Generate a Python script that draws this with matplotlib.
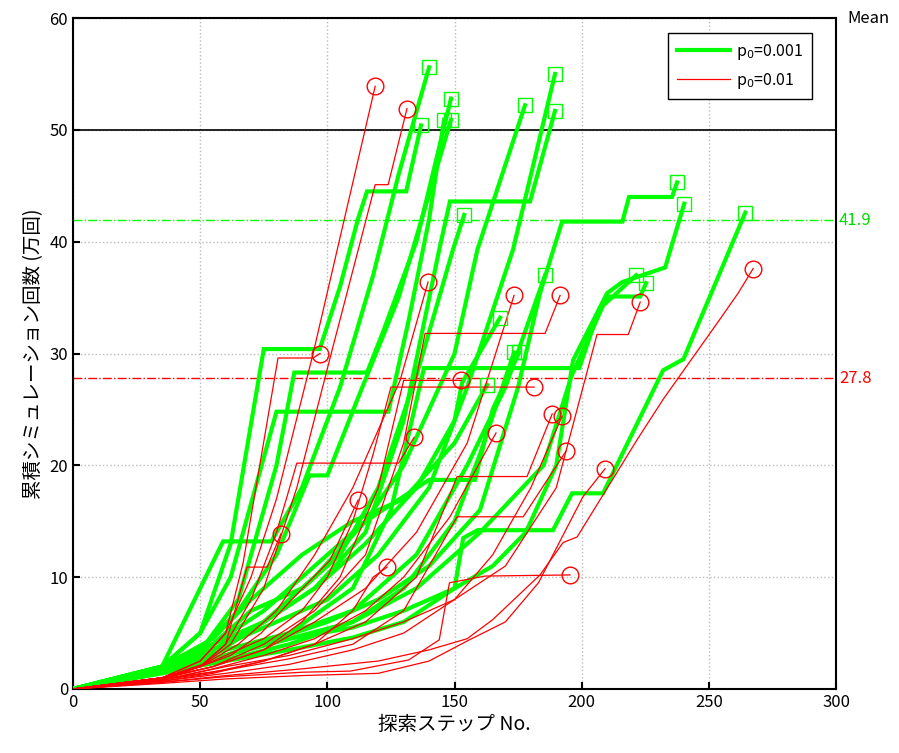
import matplotlib
matplotlib.use("Agg")
import matplotlib.pyplot as plt

plt.rcParams['font.family'] = ['Noto Sans CJK JP', 'DejaVu Sans']

# cumulative simulation counts (x 10^4) per search step, p0 = 0.001
green_x = [
    [0, 35, 59, 78, 90, 105, 118, 128, 140],
    [0, 35, 50, 62, 75, 97, 105, 112, 115.6, 131, 136.8],
    [0, 35, 52, 65, 80, 87, 115.6, 122, 135, 148.6],
    [0, 35, 50, 62, 80, 124, 132, 140, 145.9],
    [0, 35, 50, 65, 80, 93, 100, 112, 128, 148.6],
    [0, 35, 55, 75, 95, 115, 130, 150, 159, 177.7],
    [0, 35, 60, 80, 100, 120, 140, 155, 173, 189.5],
    [0, 35, 55, 75, 95, 115, 130, 144, 148.2, 179.7, 189.5],
    [0, 35, 55, 70, 90, 105, 120, 135, 149.4, 153.8],
    [0, 35, 60, 80, 100, 120, 140, 160, 175, 183.6, 192.3, 216, 218.6, 235.5, 237.5],
    [0, 35, 60, 85, 110, 130, 150, 165, 178, 190, 196.6, 210, 216, 232.8, 240.3],
    [0, 35, 60, 85, 110, 130, 150, 153.4, 159, 188.7, 196.2, 208.4, 232, 240, 264.3],
    [0, 35, 60, 85, 110, 125, 138, 199, 207, 221.4],
    [0, 35, 60, 85, 110, 135, 160, 185, 196, 210, 223, 225.3],
    [0, 35, 60, 85, 110, 135, 155, 170, 185.6],
    [0, 35, 55, 75, 95, 115, 135, 150, 153, 167.9],
    [0, 35, 60, 85, 110, 130, 150, 160, 173.4],
    [0, 35, 55, 75, 95, 115, 140, 158, 165, 175.4],
    [0, 35, 55, 70, 90, 110, 130, 150, 162.8],
]
green_y = [
    [0, 2.0, 13.2, 13.2, 18, 27, 37, 46, 55.6],
    [0, 2.0, 5, 13, 30.4, 30.4, 36, 42, 44.5, 44.5, 50.4],
    [0, 1.8, 4, 8, 20, 28.3, 28.3, 32, 40, 52.8],
    [0, 2.0, 5, 10, 24.8, 24.8, 33, 42, 50.9],
    [0, 1.6, 3.5, 7, 12, 19.1, 19.1, 26, 35, 50.9],
    [0, 1.5, 3, 6, 10, 15, 20, 30, 39.3, 52.2],
    [0, 1.8, 4, 6, 8, 12, 18, 27, 39.3, 55.0],
    [0, 1.7, 3.5, 6, 9, 14, 24, 39.3, 43.6, 43.6, 51.7],
    [0, 2.0, 4, 7, 9, 12, 18, 28, 39.3, 42.4],
    [0, 1.6, 3, 4.5, 6, 8, 11, 16, 27, 35.4, 41.8, 41.8, 44.0, 44.0, 45.3],
    [0, 1.5, 3, 4.5, 5.5, 7, 9, 11, 14, 20, 29.4, 35.4, 36.4, 37.7, 43.4],
    [0, 1.5, 2.5, 3.5, 4.6, 6, 9, 13.5, 14.2, 14.2, 17.5, 17.5, 28.5, 29.5, 42.6],
    [0, 1.8, 3, 5, 9, 16, 28.7, 28.7, 34, 37.0],
    [0, 1.4, 2.6, 4, 6, 9, 14, 20, 28, 35.1, 35.1, 36.3],
    [0, 1.7, 3.5, 5, 7, 12, 20, 27, 37.0],
    [0, 2.0, 4, 6, 9, 13, 18, 24, 27.4, 33.2],
    [0, 1.6, 3, 4.5, 6, 9, 15, 21, 30.1],
    [0, 1.8, 4, 7, 11, 15, 18.7, 18.7, 25, 30.1],
    [0, 2.0, 4.5, 8, 12, 15, 17, 22, 27.2],
]

# cumulative simulation counts (x 10^4) per search step, p0 = 0.01
red_x = [
    [0, 35, 50, 60, 70, 80, 94.4, 118.8],
    [0, 35, 50, 62, 75, 88, 102.2, 118.8, 123.9, 131.3],
    [0, 35, 50, 65, 80, 95, 110, 128.6, 139.6],
    [0, 35, 55, 75, 95, 115, 135, 155, 173.4],
    [0, 35, 55, 75, 95, 115, 130, 138.4, 185.6, 191.5],
    [0, 35, 60, 85, 110, 130, 150, 170, 190, 206, 218.3, 223],
    [0, 35, 60, 90, 120, 140, 155, 165, 183.6, 192.7, 198.2, 221.8, 232, 253.2, 261.5, 267.4],
    [0, 35, 50, 60, 66.9, 80.6, 94.4, 97.1],
    [0, 35, 55, 75, 90, 105, 120, 130, 152.6],
    [0, 35, 55, 75, 90, 100, 110, 118, 125, 181.3],
    [0, 35, 55, 75, 95, 115, 130, 148.2, 166.3],
    [0, 35, 50, 60, 70, 80, 88, 128, 134.1],
    [0, 35, 55, 75, 95, 115, 135, 151, 178.5, 188.4],
    [0, 35, 60, 85, 110, 130, 150, 165, 180, 192.3],
    [0, 35, 60, 85, 110, 130, 151, 177, 193.9],
    [0, 35, 50, 62, 74, 86, 101, 112.1],
    [0, 35, 50, 60, 68.4, 76.3, 81.8],
    [0, 35, 55, 75, 95, 110, 118, 123.5],
    [0, 35, 60, 90, 120, 140, 155, 170, 183, 200.5, 209.2],
    [0, 35, 60, 90, 109, 132, 144, 148, 162, 195.4],
]
red_y = [
    [0, 1.0, 2.5, 5, 10, 17, 30.0, 53.9],
    [0, 1.0, 2, 4, 9, 18, 30.6, 45.1, 45.1, 51.9],
    [0, 0.8, 2, 4, 7, 12, 18, 27.6, 36.4],
    [0, 0.9, 2, 3.5, 6, 9, 14, 22, 35.2],
    [0, 1.0, 2, 4, 7, 12, 22, 31.8, 31.8, 35.2],
    [0, 0.8, 2, 3, 4.5, 6, 8, 11, 18, 31.7, 31.7, 34.6],
    [0, 0.6, 1.2, 1.8, 2.5, 3.5, 4.5, 6.2, 10.2, 13.1, 13.6, 22.3, 25.9, 32.7, 35.4, 37.6],
    [0, 1.0, 2.5, 5, 11.3, 29.6, 29.6, 30.0],
    [0, 1.0, 2, 3.5, 6, 10, 18, 27.6, 27.6],
    [0, 1.0, 2.5, 4.5, 7, 10, 15, 21, 27.0, 27.0],
    [0, 0.8, 1.8, 3, 4.5, 7, 10, 15.4, 22.9],
    [0, 1.0, 2, 4, 8, 14, 20.2, 20.2, 22.5],
    [0, 0.8, 1.5, 2.5, 4, 6, 10, 19.0, 19.0, 24.6],
    [0, 0.7, 1.4, 2.2, 3.5, 5, 8, 12, 18, 24.4],
    [0, 0.9, 1.7, 2.7, 4, 7, 15.4, 15.4, 21.3],
    [0, 1.0, 2, 3, 5, 8, 11.5, 16.9],
    [0, 1.0, 2, 4, 10.9, 10.9, 13.9],
    [0, 0.7, 1.4, 2.5, 4, 7, 10, 10.9],
    [0, 0.5, 0.9, 1.2, 1.4, 2.5, 4.3, 6, 9.5, 17.2, 19.7],
    [0, 0.6, 1.1, 1.5, 1.6, 2.6, 4.4, 9.5, 10.1, 10.2],
]

mean_green = 41.9
mean_red = 27.8
ref_level = 50

fig, ax = plt.subplots(figsize=(8.99, 7.53), dpi=100)
fig.subplots_adjust(left=0.0812, right=0.930, bottom=0.085, top=0.976)

for xs, ys in zip(green_x, green_y):
    ax.plot(xs, ys, color='#00ff00', lw=3.0, solid_joinstyle='miter', zorder=3)
    ax.plot(xs[-1], ys[-1], marker='s', ms=10, mfc='none', mec='#00ff00', mew=1.0, zorder=5)

for xs, ys in zip(red_x, red_y):
    ax.plot(xs, ys, color='#ff0000', lw=0.9, zorder=4)
    ax.plot(xs[-1], ys[-1], marker='o', ms=12, mfc='none', mec='#ff0000', mew=1.0, zorder=5)

ax.axhline(ref_level, color='black', lw=1.2, zorder=2)
ax.axhline(mean_green, color='#00ff00', lw=1.0, ls='-.', zorder=2)
ax.axhline(mean_red, color='#ff0000', lw=1.0, ls='-.', zorder=2)

ax.text(1.004, mean_green, f'{mean_green:.1f}', color='#00dd00', fontsize=12,
        va='center', ha='left', transform=ax.get_yaxis_transform())
ax.text(1.004, mean_red, f'{mean_red:.1f}', color='#ff0000', fontsize=12,
        va='center', ha='left', transform=ax.get_yaxis_transform())
ax.text(1.015, 1.0, 'Mean', fontsize=12, va='center', ha='left', transform=ax.transAxes)

# legend proxies
ax.plot([], [], color='#00ff00', lw=3.0, label='p$_0$=0.001')
ax.plot([], [], color='#ff0000', lw=0.9, label='p$_0$=0.01')
leg = ax.legend(loc='upper right', bbox_to_anchor=(0.9685, 0.9776), fontsize=11.5,
                fancybox=False, edgecolor='black', framealpha=1, handlelength=3.3,
                borderpad=0.55, labelspacing=0.55, borderaxespad=0, handletextpad=0.4)
leg.get_frame().set_linewidth(1.0)

ax.set_xlim(0, 300)
ax.set_ylim(0, 60)
ax.set_xticks(range(0, 301, 50))
ax.set_yticks(range(0, 61, 10))
ax.tick_params(direction='in', labelsize=12, width=1.5, length=5)
ax.grid(True, color='#bbbbbb', ls=':', lw=1.0)
for s in ax.spines.values():
    s.set_linewidth(1.5)

ax.set_xlabel('探索ステップ No.', fontsize=14, labelpad=2)
ax.set_ylabel('累積シミュレーション回数 (万回)', fontsize=14, labelpad=4)

fig.savefig('out.png', dpi=100)
